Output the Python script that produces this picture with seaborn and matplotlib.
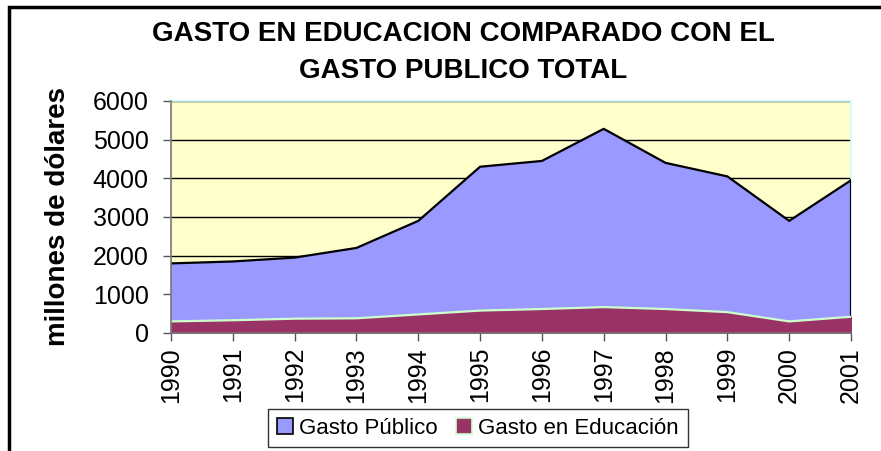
import matplotlib
matplotlib.use("Agg")
from matplotlib import pyplot as plt
from matplotlib.lines import Line2D
import seaborn as sns
import pandas as pd

years = [1990, 1991, 1992, 1993, 1994, 1995, 1996, 1997, 1998, 1999, 2000, 2001]
gasto_publico = [1800, 1850, 1950, 2200, 2900, 4300, 4450, 5280, 4400, 4050, 2900, 3950]
gasto_educacion = [300, 330, 370, 380, 480, 580, 620, 670, 620, 540, 300, 420]
yticks = [0, 1000, 2000, 3000, 4000, 5000, 6000]

df = pd.DataFrame({"year": years, "publico": gasto_publico, "educacion": gasto_educacion})

sns.set_style("white", {"text.color": "black", "axes.labelcolor": "black",
                        "xtick.color": "black", "ytick.color": "black"})
plt.rcParams['font.family'] = ['Liberation Sans', 'DejaVu Sans']

fig = plt.figure(figsize=(8.81, 4.51), dpi=100)
ax = fig.add_axes([171 / 881, 1 - 333 / 451, 680 / 881, 232 / 451])
ax.set_facecolor("#FFFFCC")

# areas: public spending behind, education in front
ax.fill_between(df["year"], 0, df["publico"], color="#9999FF", zorder=2)
sns.lineplot(data=df, x="year", y="publico", color="black", lw=1.6, ax=ax, zorder=3)
ax.fill_between(df["year"], 0, df["educacion"], color="#993366", zorder=4)
sns.lineplot(data=df, x="year", y="educacion", color="#CCFFCC", lw=1.6, ax=ax, zorder=5)
ax.plot([years[-1], years[-1]], [0, gasto_publico[-1]], color="black", lw=1.6, zorder=3)

ax.set_xlim(years[0], years[-1])
ax.set_ylim(0, 6000)
ax.set_yticks(yticks)
ax.set_yticklabels([str(v) for v in yticks], fontsize=18)
ax.set_xticks(years)
ax.set_xticklabels([str(y) for y in years], rotation=90, fontsize=18)
ax.yaxis.grid(True, color="black", lw=1.0, zorder=1)
ax.set_axisbelow(True)
ax.tick_params(axis="y", direction="out", length=6, width=1, color="#555555",
               left=True, pad=10)
ax.tick_params(axis="x", direction="out", length=6, width=1, color="#555555",
               bottom=True, pad=4)
ax.set_xlabel("")
ax.set_ylabel("millones de dólares", fontsize=20, fontweight="bold", labelpad=16)

for side in ["top", "right"]:
    ax.spines[side].set_color("#CCFFFF")
    ax.spines[side].set_linewidth(1.2)
for side in ["left", "bottom"]:
    ax.spines[side].set_color("#777777")
    ax.spines[side].set_linewidth(1.2)
    ax.spines[side].set_zorder(6)

fig.text(463 / 881, 1 - 34 / 451, "GASTO EN EDUCACION COMPARADO CON EL",
         ha="center", va="center", fontsize=20, fontweight="bold")
fig.text(463 / 881, 1 - 71 / 451, "GASTO PUBLICO TOTAL",
         ha="center", va="center", fontsize=20, fontweight="bold")

# outer chart frame
fig.add_artist(plt.Rectangle((9 / 881, -0.05), 1.0, 1 - 7 / 451 + 0.05,
                             transform=fig.transFigure, fill=False,
                             edgecolor="black", lw=2.5))

handles = [
    Line2D([], [], marker="s", ls="", markersize=12, markerfacecolor="#9999FF",
           markeredgecolor="black", markeredgewidth=1.2),
    Line2D([], [], marker="s", ls="", markersize=12, markerfacecolor="#993366",
           markeredgecolor="#CCFFCC", markeredgewidth=1.2),
]
leg = fig.legend(handles, ["Gasto Público", "Gasto en Educación"], ncol=2,
                 loc="center", bbox_to_anchor=(478 / 881, 1 - 428 / 451),
                 fontsize=16, frameon=True, fancybox=False, handlelength=0.7,
                 handletextpad=0.3, columnspacing=0.8, borderpad=0.4)
leg.get_frame().set_edgecolor("black")
leg.get_frame().set_linewidth(1.0)

fig.savefig("out.png", dpi=100)
